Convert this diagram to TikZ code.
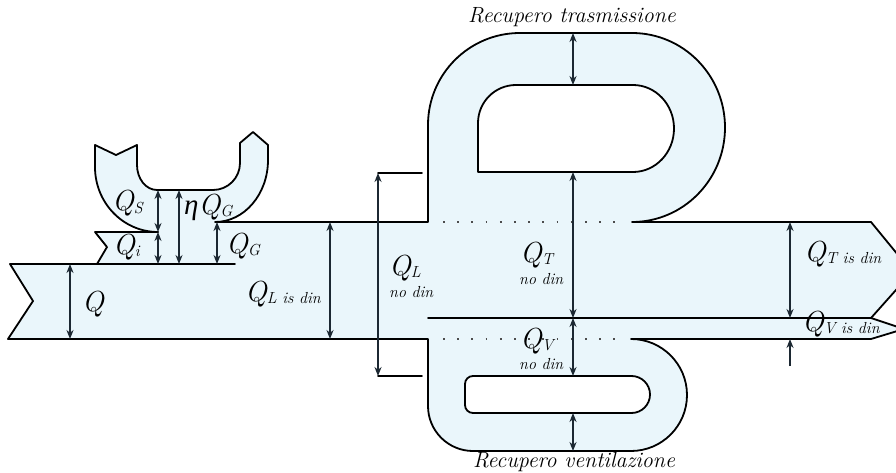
\documentclass[tikz,border=0pt]{standalone}
\usepackage{fontspec}
\setmainfont{Latin Modern Roman}
\newfontfamily\grkfont{Liberation Serif}
\usetikzlibrary{arrows.meta}
\definecolor{bandfill}{RGB}{234,246,251}
\definecolor{dimc}{RGB}{28,40,50}
\tikzset{
  outl/.style={draw=black, line width=1.8pt, line join=round, line cap=round},
  dimarrow/.style={draw=dimc, line width=1.6pt, {Stealth[length=9pt,width=7pt]}-{Stealth[length=9pt,width=7pt]}},
  onearrow/.style={draw=dimc, line width=1.6pt, -{Stealth[length=9pt,width=7pt]}},
  dotline/.style={draw=black!70, line width=1.8pt, dash pattern=on 1.8pt off 12.4pt, line cap=butt},
  bigq/.style={inner sep=0pt, anchor=base west, font=\fontsize{29}{29}\selectfont\itshape},
  smalltxt/.style={inner sep=0pt, anchor=base west, font=\fontsize{16}{16}\selectfont\itshape},
  capt/.style={inner sep=0pt, font=\fontsize{22}{22}\selectfont\itshape},
}
\newcommand{\sbs}[1]{\raisebox{-2pt}{\fontsize{16}{16}\selectfont #1}}
\begin{document}
\begin{tikzpicture}[x=1pt,y=1pt]
\useasboundingbox (0,0) rectangle (896,-473);
\fill[white] (0,0) rectangle (896,-473);
\clip (0,0) rectangle (896,-473);

% ---------- fills ----------
\fill[bandfill] (95,-145) -- (116,-155) -- (137,-145) -- (137,-165)
  arc[start angle=180,end angle=270,x radius=20,y radius=25] -- (213,-190)
  arc[start angle=270,end angle=360,radius=27] -- (240,-143) -- (253,-132) -- (268,-145) -- (268,-160)
  arc[start angle=0,end angle=-90,x radius=53,y radius=62] -- (215,-264) -- (97,-264) -- (107,-247)
  -- (95,-232) -- (158,-232) arc[start angle=270,end angle=180,x radius=63,y radius=65] -- cycle;
\fill[bandfill] (10,-264) -- (33,-301) -- (8,-339) -- (871,-339) -- (904,-329) -- (871,-318)
  -- (912,-272) -- (871,-222) -- (215,-222) -- (215,-264) -- cycle;
\fill[bandfill] (428,-222) -- (428,-125) arc[start angle=180,end angle=90,radius=92] -- (632,-33)
  arc[start angle=90,end angle=-90,x radius=93,y radius=94.5] -- cycle;
\fill[bandfill] (428,-339) -- (428,-406) arc[start angle=180,end angle=270,radius=45] -- (631,-451)
  arc[start angle=-90,end angle=90,radius=56] -- cycle;

% ---------- holes ----------
\filldraw[fill=white, outl] (478,-172) -- (478,-123) arc[start angle=180,end angle=90,radius=38] -- (633,-85)
  arc[start angle=90,end angle=-90,x radius=41,y radius=43.5] -- cycle;
\filldraw[fill=white, outl] (473,-376) -- (631.5,-376) arc[start angle=90,end angle=-90,radius=18.5]
  -- (473,-413) arc[start angle=270,end angle=180,radius=8] -- (465,-384)
  arc[start angle=180,end angle=90,radius=8] -- cycle;

% ---------- outlines ----------
\draw[outl] (158,-232) arc[start angle=270,end angle=180,x radius=63,y radius=65] -- (95,-145) -- (116,-155)
  -- (137,-145) -- (137,-165) arc[start angle=180,end angle=270,x radius=20,y radius=25] -- (213,-190)
  arc[start angle=270,end angle=360,radius=27] -- (240,-143) -- (253,-132) -- (268,-145) -- (268,-160)
  arc[start angle=0,end angle=-90,x radius=53,y radius=62] -- (428,-222) -- (428,-125)
  arc[start angle=180,end angle=90,radius=92] -- (632,-33)
  arc[start angle=90,end angle=-90,x radius=93,y radius=94.5] -- (871,-222) -- (912,-272)
  -- (871,-318) -- (428,-318);
\draw[outl] (158,-232) -- (95,-232) -- (107,-247) -- (97,-264);
\draw[outl] (235,-264) -- (10,-264) -- (33,-301) -- (8,-339) -- (428,-339) -- (428,-406)
  arc[start angle=180,end angle=270,radius=45] -- (631,-451)
  arc[start angle=-90,end angle=90,radius=56] -- (871,-339) -- (904,-329) -- (871,-318);
\draw[dotline] (443,-222) -- (622,-222);
\draw[dotline] (443,-339) -- (622,-339);

% ---------- Q_L no din bracket ----------
\coordinate (bt1) at (378,-173); \coordinate (bt2) at (422,-173);
\coordinate (bb1) at (378,-376); \coordinate (bb2) at (422,-376);
\draw[outl] (bt1) -- (bt2);
\draw[outl] (bb1) -- (bb2);

% ---------- dimension arrows ----------
\coordinate (q1) at (70,-264);   \coordinate (q2) at (70,-339);
\coordinate (s1) at (158,-190);  \coordinate (s2) at (158,-232);
\coordinate (i1) at (158,-232);  \coordinate (i2) at (158,-264);
\coordinate (e1) at (179,-190);  \coordinate (e2) at (179,-264);
\coordinate (g1) at (217,-222);  \coordinate (g2) at (217,-264);
\coordinate (l1) at (330,-222);  \coordinate (l2) at (330,-339);
\coordinate (rt1) at (573,-33);  \coordinate (rt2) at (573,-85);
\coordinate (t1) at (573,-172);  \coordinate (t2) at (573,-318);
\coordinate (v1) at (573,-318);  \coordinate (v2) at (573,-376);
\coordinate (rv1) at (573,-413); \coordinate (rv2) at (573,-451);
\coordinate (ti1) at (790,-222); \coordinate (ti2) at (790,-318);
\coordinate (vi1) at (790,-366); \coordinate (vi2) at (790,-339);
\draw[dimarrow] (q1) -- (q2);
\draw[dimarrow] (s1) -- (s2);
\draw[dimarrow] (i1) -- (i2);
\draw[dimarrow] (e1) -- (e2);
\draw[dimarrow] (g1) -- (g2);
\draw[dimarrow] (l1) -- (l2);
\draw[dimarrow] (bt1) -- (bb1);
\draw[dimarrow] (rt1) -- (rt2);
\draw[dimarrow] (t1) -- (t2);
\draw[dimarrow] (v1) -- (v2);
\draw[dimarrow] (rv1) -- (rv2);
\draw[dimarrow] (ti1) -- (ti2);
\draw[onearrow] (vi1) -- (vi2);

% ---------- labels ----------
\node[bigq] (lq) at (82,-311) {Q};
\node[bigq] (lqs) at (112,-211) {Q\sbs{S}};
\node[bigq] (leta) at (184,-214) {{\grkfont\itshape η}Q\sbs{G}};
\node[bigq] (lqi) at (113,-254) {Q\sbs{i}};
\node[bigq] (lqg) at (226,-253) {Q\sbs{G}};
\node[bigq] (lqlis) at (245,-301) {Q\sbs{L is din}};
\node[bigq] (lqlno) at (389,-275) {Q\sbs{L}};
\node[smalltxt] (nolno) at (389,-297) {no din};
\node[bigq] (lqt) at (520,-262) {Q\sbs{T}};
\node[smalltxt] (notno) at (519,-284) {no din};
\node[bigq] (lqv) at (520,-348) {Q\sbs{V}};
\node[smalltxt] (novno) at (519,-369) {no din};
\node[bigq] (lqtis) at (804,-261) {Q\sbs{T is din}};
\node[bigq] (lqvis) at (802,-331) {Q\sbs{V is din}};
\node[capt] (rt) at (572,-17) {Recupero trasmissione};
\node[capt] (rv) at (574,-462) {Recupero ventilazione};
\end{tikzpicture}
\end{document}
